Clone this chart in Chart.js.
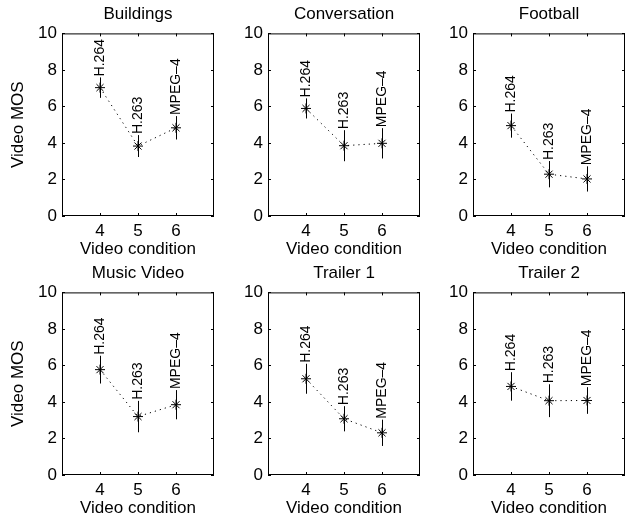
<!DOCTYPE html>
<html>
<head>
<meta charset="utf-8">
<script src="https://cdn.jsdelivr.net/npm/chart.js@4.4.1/dist/chart.umd.min.js"></script>
<style>
  body { margin: 0; background: #fff; width: 631px; height: 521px; position: relative; overflow: hidden; }
  canvas { position: absolute; }
</style>
</head>
<body>
<canvas id="c0" width="220" height="260" style="left:0px;top:0px"></canvas>
<canvas id="c1" width="220" height="260" style="left:206px;top:0px"></canvas>
<canvas id="c2" width="220" height="260" style="left:411px;top:0px"></canvas>
<canvas id="c3" width="220" height="260" style="left:0px;top:259px"></canvas>
<canvas id="c4" width="220" height="260" style="left:206px;top:259px"></canvas>
<canvas id="c5" width="220" height="260" style="left:411px;top:259px"></canvas>
<script>
// dane: średni MOS i połowa przedziału ufności
const titles = ["Buildings", "Conversation", "Football", "Music Video", "Trailer 1", "Trailer 2"];
const conditions = [4, 5, 6];
const codecs = ["H.264", "H.263", "MPEG–4"];
const yTicks = [0, 2, 4, 6, 8, 10];

const meanBuildings = [7.03, 3.83, 4.83];
const errBuildings = [0.56, 0.6, 0.64];
const meanConversation = [5.89, 3.85, 3.98];
const errConversation = [0.55, 0.85, 0.83];
const meanFootball = [4.95, 2.29, 2.03];
const errFootball = [0.66, 0.72, 0.69];
const meanMusic = [5.77, 3.2, 3.85];
const errMusic = [0.76, 0.86, 0.8];
const meanTrailer1 = [5.27, 3.08, 2.31];
const errTrailer1 = [0.82, 0.69, 0.72];
const meanTrailer2 = [4.85, 4.07, 4.08];
const errTrailer2 = [0.78, 0.9, 0.73];

const means = [meanBuildings, meanConversation, meanFootball, meanMusic, meanTrailer1, meanTrailer2];
const errs = [errBuildings, errConversation, errFootball, errMusic, errTrailer1, errTrailer2];

const FONT = "'Liberation Sans', Arial, Helvetica, sans-serif";

// ramka, wewnętrzne znaczniki osi, słupki błędów i podpisy kodeków
const matlabBox = {
  id: "matlabBox",
  afterDatasetsDraw(chart) {
    const { ctx, scales: { x, y } } = chart;
    const ds = chart.data.datasets[0];
    ctx.save();
    ctx.strokeStyle = "#000";
    ctx.lineWidth = 1;
    ds.data.forEach((p, i) => {
      const px = Math.round(x.getPixelForValue(p.x)) + 0.5;
      const yTop = y.getPixelForValue(p.y + ds.errors[i]);
      const yBot = y.getPixelForValue(p.y - ds.errors[i]);
      ctx.beginPath();
      ctx.moveTo(px, yTop);
      ctx.lineTo(px, yBot);
      ctx.stroke();

      ctx.save();
      ctx.translate(px, yTop - 1);
      ctx.rotate(-Math.PI / 2);
      ctx.fillStyle = "#000";
      ctx.font = "14px " + FONT;
      ctx.textAlign = "left";
      ctx.textBaseline = "middle";
      ctx.fillText(ds.labels[i], 0, 0);
      ctx.restore();
    });
    ctx.restore();
  },
  afterDraw(chart) {
    const { ctx, chartArea: a, scales: { x, y } } = chart;
    ctx.save();
    ctx.strokeStyle = "#000";
    ctx.lineWidth = 1;
    ctx.strokeRect(a.left + 0.5, a.top + 0.5, a.right - a.left - 1, a.bottom - a.top - 1);
    const tl = 3;
    ctx.beginPath();
    conditions.forEach((v) => {
      const px = Math.round(x.getPixelForValue(v)) + 0.5;
      ctx.moveTo(px, a.bottom);
      ctx.lineTo(px, a.bottom - tl);
      ctx.moveTo(px, a.top);
      ctx.lineTo(px, a.top + tl);
    });
    yTicks.forEach((v) => {
      const py = Math.round(y.getPixelForValue(v)) + 0.5;
      ctx.moveTo(a.left, py);
      ctx.lineTo(a.left + tl, py);
      ctx.moveTo(a.right, py);
      ctx.lineTo(a.right - tl, py);
    });
    ctx.stroke();
    ctx.restore();
  },
};

titles.forEach((title, k) => {
  const ctx = document.getElementById("c" + k).getContext("2d");
  new Chart(ctx, {
    type: "line",
    data: {
      datasets: [
        {
          data: conditions.map((c, i) => ({ x: c, y: means[k][i] })),
          errors: errs[k],
          labels: codecs,
          borderColor: "#000",
          borderWidth: 1,
          borderDash: [1.2, 4],
          pointStyle: "star",
          pointRadius: 5,
          pointBorderWidth: 1,
          pointBorderColor: "#000",
          pointBackgroundColor: "#000",
          fill: false,
          tension: 0,
        },
      ],
    },
    options: {
      responsive: false,
      animation: false,
      layout: { padding: { right: 2 } },
      plugins: {
        legend: { display: false },
        tooltip: { enabled: false },
        title: {
          display: true,
          fullSize: false,
          text: title,
          color: "#000",
          font: { family: FONT, size: 17, weight: "normal", lineHeight: 1.2 },
          padding: { top: 4, bottom: 9 },
        },
      },
      scales: {
        x: {
          type: "linear",
          min: 3,
          max: 7,
          afterBuildTicks: (s) => { s.ticks = conditions.map((v) => ({ value: v })); },
          afterFit: (s) => { s.height = 44; },
          grid: { display: false, drawTicks: false },
          border: { display: false },
          ticks: { color: "#000", padding: 5, font: { family: FONT, size: 17 } },
          title: {
            display: true,
            text: "Video condition",
            color: "#000",
            font: { family: FONT, size: 17, lineHeight: 1.2 },
            padding: { top: 0, bottom: 0 },
          },
        },
        y: {
          min: 0,
          max: 10,
          afterBuildTicks: (s) => { s.ticks = yTicks.map((v) => ({ value: v })); },
          afterFit: (s) => { s.width = 62; },
          grid: { display: false, drawTicks: false },
          border: { display: false },
          ticks: { color: "#000", padding: 5, font: { family: FONT, size: 17 } },
          title: {
            display: k % 3 === 0,
            text: "Video MOS",
            color: "#000",
            font: { family: FONT, size: 17, lineHeight: 1.2 },
            padding: { top: 8, bottom: 0 },
          },
        },
      },
    },
    plugins: [matlabBox],
  });
});
</script>
</body>
</html>
